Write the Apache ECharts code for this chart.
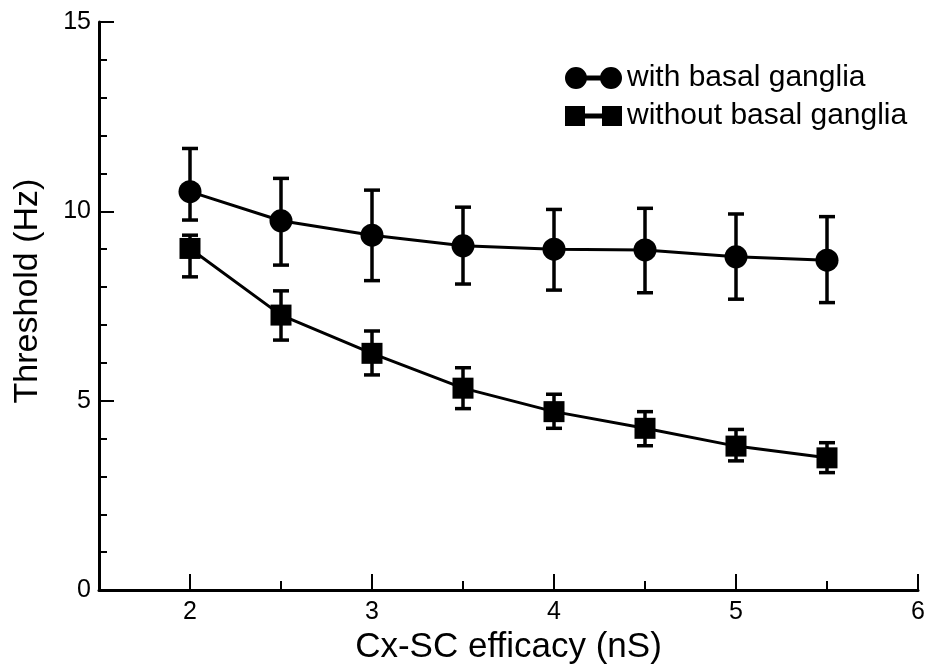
<!DOCTYPE html>
<html>
<head>
<meta charset="utf-8">
<script src="https://cdn.jsdelivr.net/npm/echarts@6/dist/echarts.min.js"></script>
<style>
html,body{margin:0;padding:0;background:#fff;}
#chart{width:929px;height:666px;}
</style>
</head>
<body>
<div id="chart"></div>
<script>
const xValues = [2, 2.5, 3, 3.5, 4, 4.5, 5, 5.5];
const withBG = [10.52, 9.75, 9.37, 9.09, 9.00, 8.98, 8.80, 8.71];
const withBGLow = [9.77, 8.58, 8.17, 8.08, 7.92, 7.85, 7.68, 7.59];
const withBGHigh = [11.66, 10.87, 10.56, 10.11, 10.05, 10.08, 9.93, 9.86];
const withoutBG = [9.02, 7.26, 6.25, 5.33, 4.71, 4.27, 3.80, 3.49];
const withoutBGLow = [8.27, 6.60, 5.68, 4.79, 4.27, 3.81, 3.41, 3.10];
const withoutBGHigh = [9.37, 7.90, 6.84, 5.87, 5.17, 4.71, 4.24, 3.89];
const xMajorTicks = [2, 3, 4, 5, 6];
const xMinorTicks = [2.5, 3.5, 4.5, 5.5];
const seriesNames = ['with basal ganglia', 'without basal ganglia'];
const xTitle = 'Cx-SC efficacy (nS)';
const yTitle = 'Threshold (Hz)';

const FONT = '"Liberation Sans", Arial, Helvetica, sans-serif';
const circleIcon = 'path://M0,11 A11,11 0 1 1 22,11 A11,11 0 1 1 0,11 Z M20,8.5 L37,8.5 L37,13.5 L20,13.5 Z M35,11 A11,11 0 1 1 57,11 A11,11 0 1 1 35,11 Z';
const squareIcon = 'path://M0,1 L20,1 L20,21 L0,21 Z M18,8.5 L39,8.5 L39,13.5 L18,13.5 Z M37,1 L57,1 L57,21 L37,21 Z';

function pairs(ys) { return xValues.map((x, i) => [x, ys[i]]); }
function errData(lo, hi) { return xValues.map((x, i) => [x, lo[i], hi[i]]); }

function errRender(params, api) {
  const x = api.value(0);
  const lo = api.coord([x, api.value(1)]);
  const hi = api.coord([x, api.value(2)]);
  const hw = 8;
  const style = { stroke: '#000', lineWidth: 3.5, fill: null };
  return {
    type: 'group',
    children: [
      { type: 'line', shape: { x1: lo[0], y1: lo[1], x2: hi[0], y2: hi[1] }, style },
      { type: 'line', shape: { x1: lo[0] - hw, y1: lo[1], x2: lo[0] + hw, y2: lo[1] }, style },
      { type: 'line', shape: { x1: hi[0] - hw, y1: hi[1], x2: hi[0] + hw, y2: hi[1] }, style }
    ]
  };
}

const chart = echarts.init(document.getElementById('chart'), null, { renderer: 'canvas' });
chart.setOption({
  animation: false,
  backgroundColor: '#fff',
  textStyle: { fontFamily: FONT, color: '#000' },
  grid: { left: 99, right: 11, top: 22, bottom: 76, containLabel: false, outerBoundsMode: 'none' },
  legend: {
    orient: 'vertical',
    left: 560,
    top: 58,
    itemWidth: 57,
    itemHeight: 22,
    itemGap: 8,
    selectedMode: false,
    textStyle: { fontSize: 30, color: '#000', fontFamily: FONT, padding: [0, 0, 0, 0] },
    data: [
      { name: seriesNames[0], icon: circleIcon, itemStyle: { color: '#000' } },
      { name: seriesNames[1], icon: squareIcon, itemStyle: { color: '#000' } }
    ]
  },
  xAxis: [
    {
      type: 'value',
      min: 1.5,
      max: 6,
      interval: 0.5,
      splitLine: { show: false },
      axisLine: { show: true, onZero: false, lineStyle: { color: '#000', width: 3 } },
      axisTick: { show: true, inside: true, length: 16, customValues: xMajorTicks, lineStyle: { color: '#000', width: 2 } },
      axisLabel: { fontSize: 25, color: '#000', fontFamily: FONT, margin: 10, customValues: xMajorTicks },
      name: xTitle,
      nameLocation: 'middle',
      nameGap: 28,
      nameTextStyle: { fontSize: 35, color: '#000', fontFamily: FONT }
    },
    {
      type: 'value',
      position: 'bottom',
      min: 1.5,
      max: 6,
      interval: 0.5,
      splitLine: { show: false },
      axisLine: { show: false, onZero: false },
      axisTick: { show: true, inside: true, length: 9, customValues: xMinorTicks, lineStyle: { color: '#000', width: 2 } },
      axisLabel: { show: false }
    }
  ],
  yAxis: {
    type: 'value',
    min: 0,
    max: 15,
    interval: 5,
    splitLine: { show: false },
    axisLine: { show: true, lineStyle: { color: '#000', width: 3 } },
    axisTick: { show: true, inside: true, length: 15, lineStyle: { color: '#000', width: 2 } },
    minorTick: { show: true, splitNumber: 5, length: 8, lineStyle: { color: '#000', width: 2 } },
    axisLabel: { fontSize: 25, color: '#000', fontFamily: FONT, margin: 8 },
    name: yTitle,
    nameLocation: 'middle',
    nameGap: 54,
    nameTextStyle: { fontSize: 34, color: '#000', fontFamily: FONT, padding: [0, 0, 0, 30] }
  },
  series: [
    {
      name: seriesNames[0] + ' error',
      type: 'custom',
      renderItem: errRender,
      data: errData(withBGLow, withBGHigh),
      encode: { x: 0, y: [1, 2] },
      z: 2
    },
    {
      name: seriesNames[1] + ' error',
      type: 'custom',
      renderItem: errRender,
      data: errData(withoutBGLow, withoutBGHigh),
      encode: { x: 0, y: [1, 2] },
      z: 2
    },
    {
      name: seriesNames[0],
      type: 'line',
      data: pairs(withBG),
      symbol: 'circle',
      symbolSize: 23,
      color: '#000',
      lineStyle: { color: '#000', width: 3 },
      itemStyle: { color: '#000' },
      z: 3
    },
    {
      name: seriesNames[1],
      type: 'line',
      data: pairs(withoutBG),
      symbol: 'rect',
      symbolSize: 21,
      color: '#000',
      lineStyle: { color: '#000', width: 3 },
      itemStyle: { color: '#000' },
      z: 3
    }
  ]
});
</script>
</body>
</html>
